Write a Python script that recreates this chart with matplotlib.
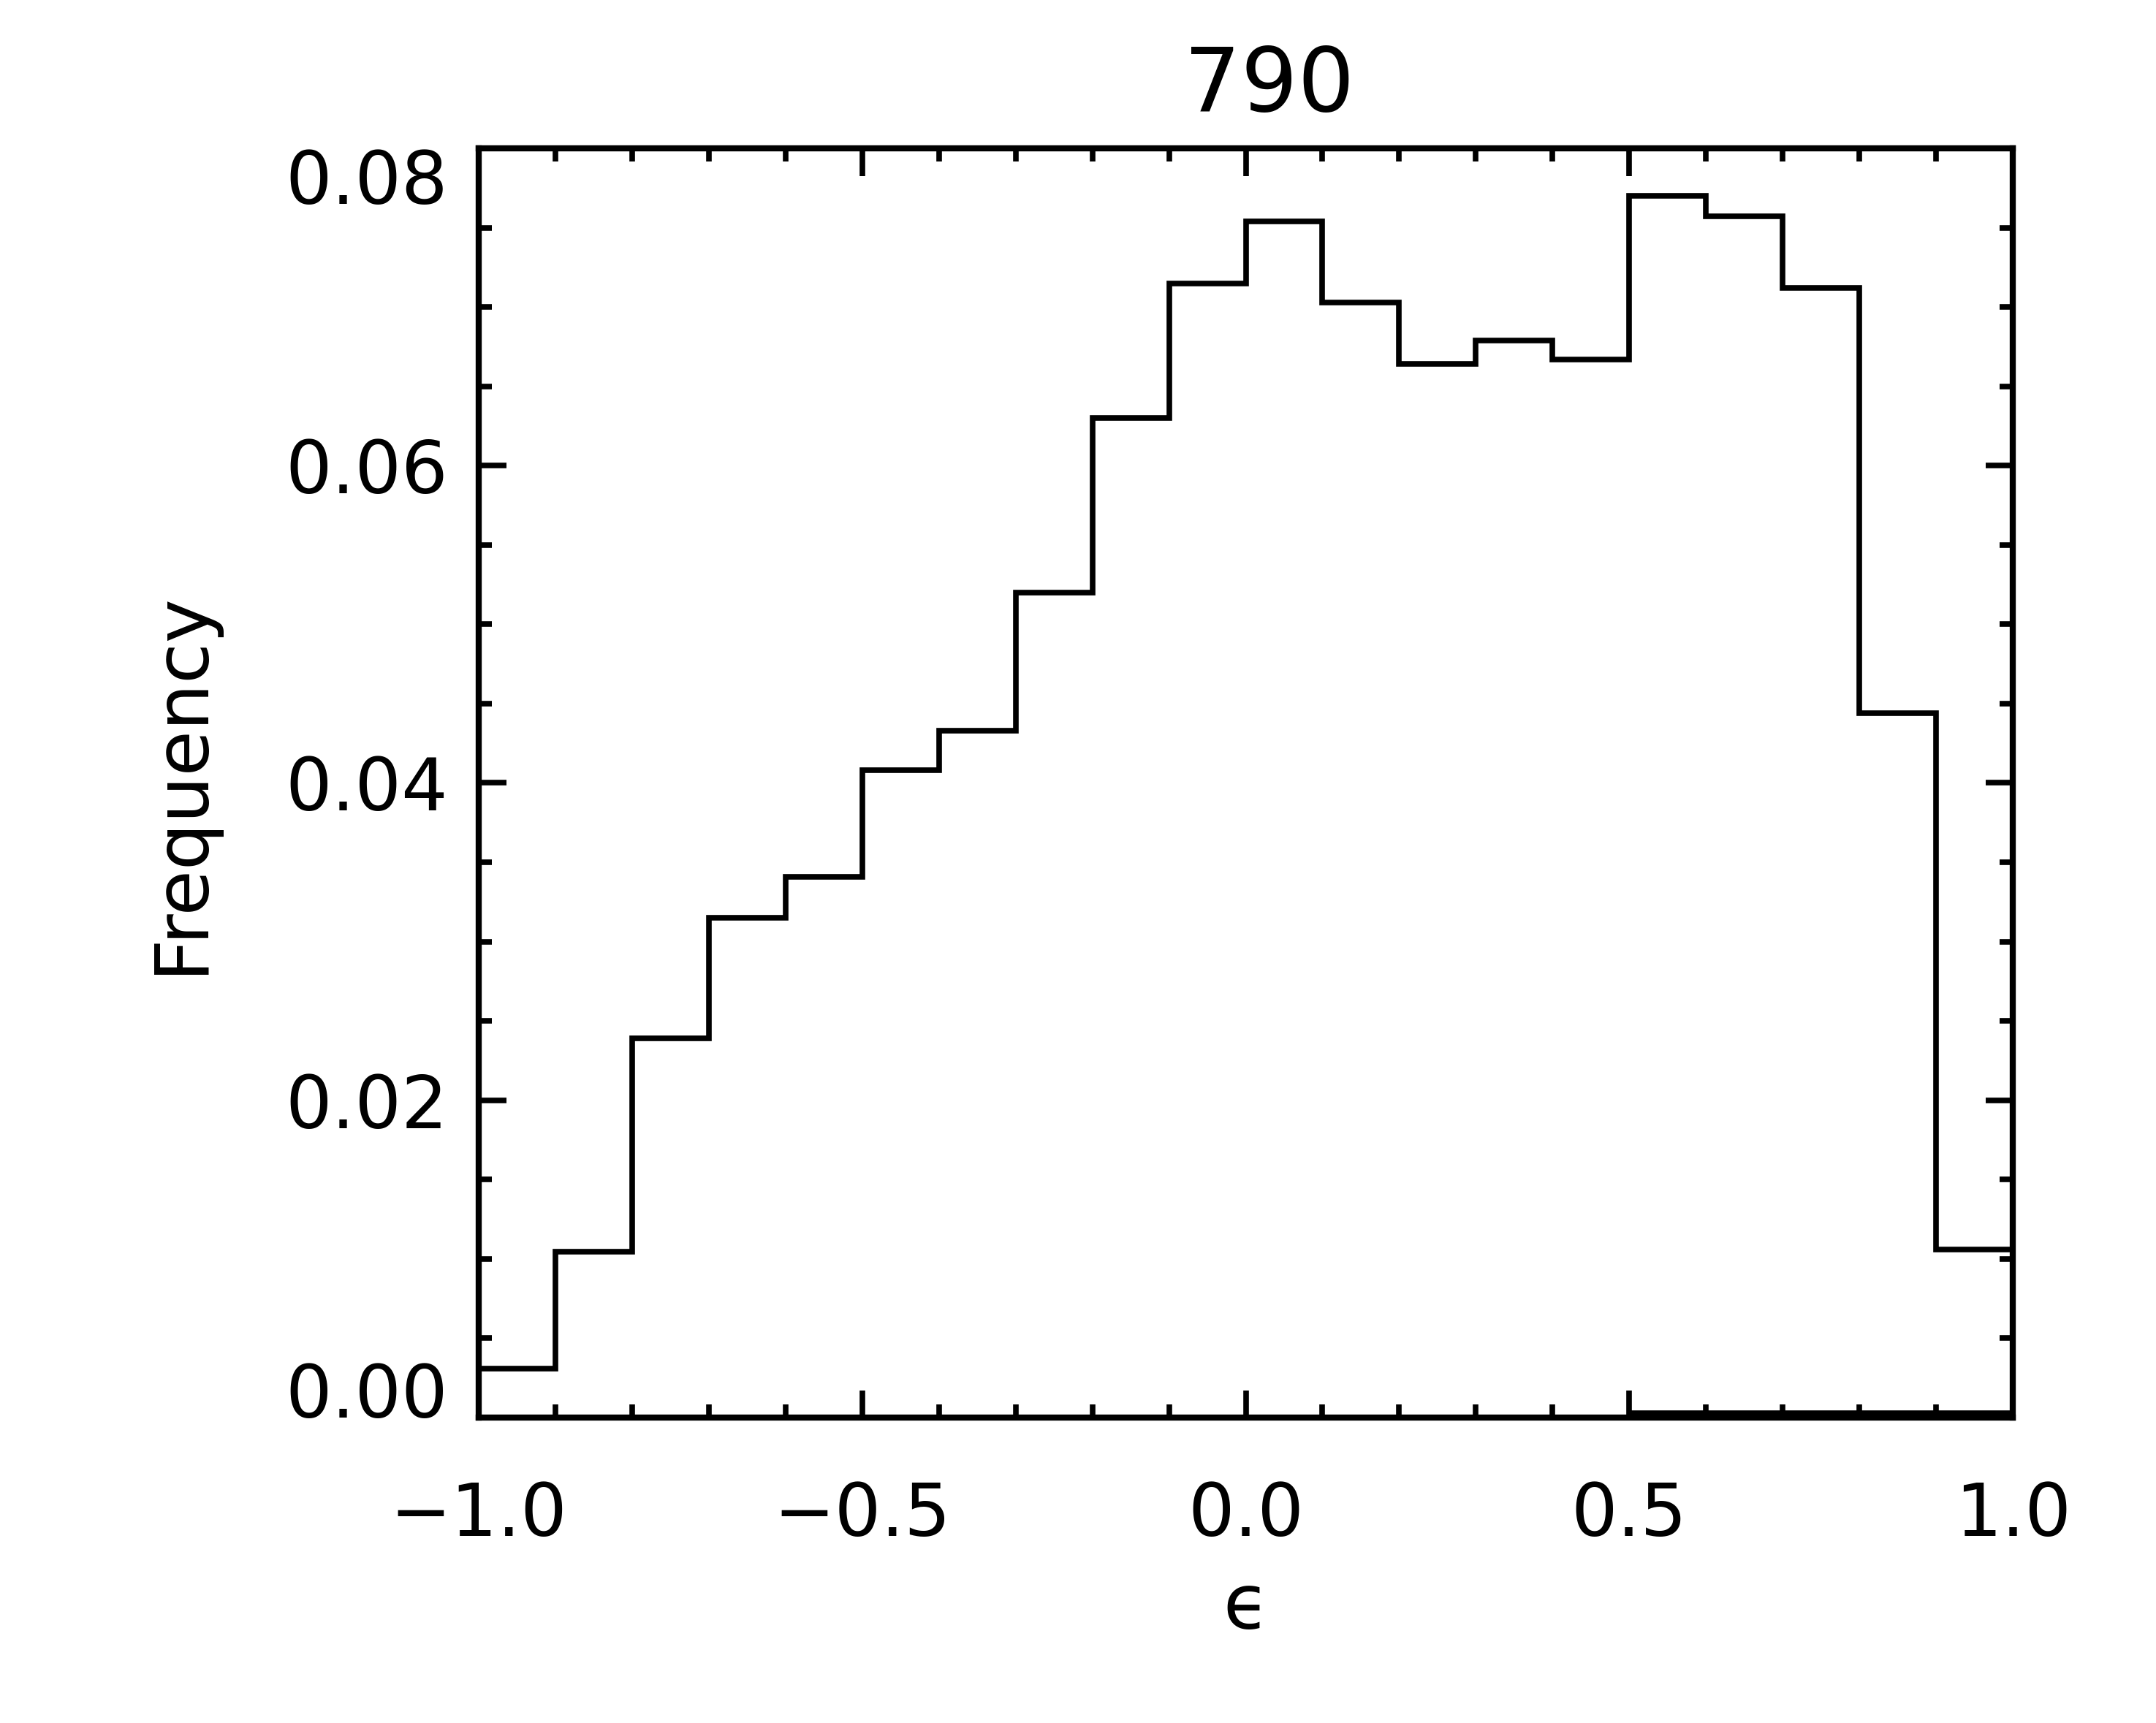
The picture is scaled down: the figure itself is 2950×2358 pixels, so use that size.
import numpy as np
import matplotlib
matplotlib.use("Agg")
import matplotlib.pyplot as plt
import matplotlib.transforms as mtransforms
from matplotlib.ticker import MultipleLocator, FixedLocator

plt.rcParams['font.family'] = ['DejaVu Sans']

# histogram of epsilon, 20 bins of width 0.1
bin_edges = np.round(np.arange(-1.0, 1.05, 0.1), 1)
frequency = [0.0031, 0.01045, 0.0239, 0.0315, 0.0341,
             0.0408, 0.0433, 0.0520, 0.0630, 0.0715,
             0.0754, 0.0703, 0.0664, 0.0679, 0.0667,
             0.0770, 0.0757, 0.0712, 0.0444, 0.0106]

# second (empty) segment sitting on the zero line
zero_x = [0.5, 1.0]
zero_y = [0.0, 0.0]

title = "790"
xlabel = "\u03f5"
ylabel = "Frequency"
xticks = [-1.0, -0.5, 0.0, 0.5, 1.0]
yticks = [0.00, 0.02, 0.04, 0.06, 0.08]


def main():
    fig = plt.figure(figsize=(29.5, 23.58), dpi=100)
    ax = fig.add_axes([0.2220, 0.1773, 0.9336 - 0.2220, 0.9139 - 0.1773])

    lw = 5.5
    ax.stairs(frequency, bin_edges, baseline=None, color="black", linewidth=lw)

    off = mtransforms.offset_copy(ax.transData, fig=fig, x=0, y=4, units="points")
    ax.plot(zero_x, zero_y, color="black", linewidth=lw, transform=off,
            clip_on=False, solid_capstyle="butt")

    ax.set_xlim(-1.0, 1.0)
    ax.set_ylim(0.0, 0.08)

    ax.xaxis.set_major_locator(FixedLocator(xticks))
    ax.xaxis.set_minor_locator(MultipleLocator(0.1))
    ax.yaxis.set_major_locator(FixedLocator(yticks))
    ax.yaxis.set_minor_locator(MultipleLocator(0.005))
    ax.set_xticklabels([f"{v:.1f}".replace("-", "\u2212") for v in xticks])
    ax.set_yticklabels([f"{v:.2f}" for v in yticks])

    for s in ax.spines.values():
        s.set_linewidth(6)

    ax.tick_params(which="both", direction="in", top=True, right=True,
                   width=lw, color="black")
    ax.tick_params(which="major", length=27)
    ax.tick_params(which="minor", length=13)
    ax.tick_params(axis="x", which="major", pad=62, labelsize=72)
    ax.tick_params(axis="y", which="major", pad=30, labelsize=72)

    ylabs = ax.get_yticklabels()
    ylabs[0].set_va("baseline")
    ylabs[-1].set_va("top")

    ax.set_xlabel(xlabel, fontsize=74, va="center")
    ax.xaxis.set_label_coords(0.5, -0.150)
    ax.set_ylabel(ylabel, fontsize=73, va="center")
    ax.yaxis.set_label_coords(-0.194, 0.5)

    fig.text(1737 / 2950, 1 - 152 / 2358, title, fontsize=88,
             ha="center", va="baseline")

    fig.savefig("out.png", dpi=100, facecolor="white")
    plt.close(fig)


if __name__ == "__main__":
    main()
